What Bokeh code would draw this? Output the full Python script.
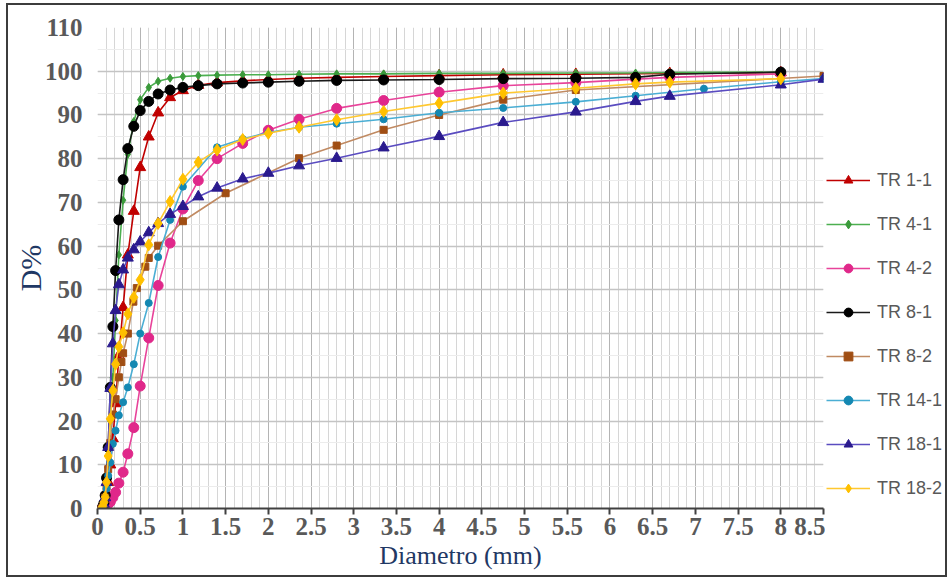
from bokeh.plotting import figure
from bokeh.layouts import row
from bokeh.models import FixedTicker, Legend, LegendItem, Range1d
from bokeh.embed import file_html
from bokeh.resources import INLINE
import numpy as np

# ---------------- data ----------------
x_tick_values = [0, 0.5, 1, 1.5, 2, 2.5, 3, 3.5, 4, 4.5, 5, 5.5, 6, 6.5, 7, 7.5, 8, 8.5]
x_tick_labels = ["0", "0.5", "1", "1.5", "2", "2.5", "3", "3.5", "4", "4.5", "5", "5.5",
                 "6", "6.5", "7", "7.5", "8", "8.5"]
y_tick_values = [0, 10, 20, 30, 40, 50, 60, 70, 80, 90, 100, 110]

tr11_d = [0.045, 0.063, 0.075, 0.09, 0.106, 0.125, 0.15, 0.18, 0.212, 0.25, 0.3, 0.355, 0.425,
          0.5, 0.6, 0.71, 0.85, 1.0, 1.18, 1.4, 1.7, 2.0, 2.36, 2.8, 3.35, 4.0, 4.75, 5.6, 6.7, 8.0]
tr11_p = [0, 0.3, 0.8, 1.8, 3.5, 6, 10, 16, 24, 35, 46, 58, 68,
          78, 85, 90.5, 94, 95.6, 96.8, 97.4, 97.8, 98.1, 98.4, 98.6, 98.8, 99.0, 99.2, 99.3, 99.5, 99.7]

tr41_d = [0.045, 0.063, 0.075, 0.09, 0.106, 0.125, 0.15, 0.18, 0.212, 0.25, 0.3, 0.355, 0.425,
          0.5, 0.6, 0.71, 0.85, 1.0, 1.18, 1.4, 1.7, 2.0, 2.36, 2.8, 3.35, 4.0, 4.75, 5.6, 6.3, 6.7, 8.0]
tr41_p = [0, 0.5, 1.5, 3.5, 7, 12, 20, 30, 43, 58, 70.5, 81, 88.5,
          93.5, 96.3, 97.7, 98.4, 98.8, 99.0, 99.1, 99.2, 99.2, 99.3, 99.4, 99.4, 99.5, 99.5, 99.6, 99.6, 99.7, 99.8]

tr42_d = [0.045, 0.063, 0.075, 0.09, 0.106, 0.125, 0.15, 0.18, 0.212, 0.25, 0.3, 0.355, 0.425,
          0.5, 0.6, 0.71, 0.85, 1.0, 1.18, 1.4, 1.7, 2.0, 2.36, 2.8, 3.35, 4.0, 4.75, 5.6, 6.3, 6.7, 8.0]
tr42_p = [0, 0.1, 0.2, 0.4, 0.7, 1.0, 1.5, 2.5, 3.7, 5.8, 8.3, 12.5, 18.5,
          28, 39, 51, 60.7, 68.5, 75, 80, 83.5, 86.5, 89, 91.5, 93.3, 95.2, 96.7, 97.4, 98.2, 98.6, 99.4]

tr81_d = [0.045, 0.063, 0.075, 0.09, 0.106, 0.125, 0.15, 0.18, 0.212, 0.25, 0.3, 0.355, 0.425,
          0.5, 0.6, 0.71, 0.85, 1.0, 1.18, 1.4, 1.7, 2.0, 2.36, 2.8, 3.35, 4.0, 4.75, 5.6, 6.3, 6.7, 8.0]
tr81_p = [0, 0.5, 1.2, 3, 7, 14, 27.7, 41.6, 54.4, 66, 75.2, 82.3, 87.4,
          91, 93.1, 94.8, 95.7, 96.3, 96.7, 97.1, 97.3, 97.5, 97.7, 97.9, 98.0, 98.1, 98.3, 98.4, 98.6, 99.3, 99.8]

tr82_d = [0.045, 0.063, 0.075, 0.09, 0.106, 0.125, 0.15, 0.18, 0.212, 0.25, 0.28, 0.3, 0.355,
          0.42, 0.46, 0.56, 0.6, 0.71, 1.0, 1.5, 2.36, 2.8, 3.35, 4.0, 4.75, 5.6, 8.5]
tr82_p = [0, 0.3, 1, 2.5, 5, 9, 15, 21.5, 25, 30, 33.5, 35.5, 40,
          47.3, 50.4, 55.3, 57.3, 60.1, 65.7, 72.1, 80.1, 83, 86.6, 90, 93.5, 95.7, 98.9]

tr141_d = [0.045, 0.063, 0.075, 0.09, 0.106, 0.125, 0.15, 0.18, 0.212, 0.25, 0.3, 0.355, 0.425,
           0.5, 0.6, 0.71, 0.85, 1.0, 1.4, 1.7, 2.0, 2.36, 2.8, 3.35, 4.0, 4.75, 5.6, 6.3, 7.1, 8.0, 8.5]
tr141_p = [0, 0.3, 1, 2.5, 4.5, 7.5, 10.5, 14.8, 17.8, 21.3, 24.3, 27.7, 33,
           40, 47, 57.5, 66, 73.6, 82.6, 84.5, 86, 87.2, 88, 89, 90.5, 91.6, 93, 94.4, 96, 97.6, 98.3]

tr181_d = [0.045, 0.063, 0.075, 0.09, 0.106, 0.125, 0.15, 0.18, 0.212, 0.25, 0.3, 0.355, 0.425,
           0.5, 0.6, 0.71, 0.85, 1.0, 1.18, 1.4, 1.7, 2.0, 2.36, 2.8, 3.35, 4.0, 4.75, 5.6, 6.3, 6.7, 8.0, 8.5]
tr181_p = [0, 0.3, 1, 2.5, 6, 14, 27.5, 37.7, 45.3, 51.2, 54.6, 57.3, 59.2,
           61, 63.1, 65.2, 67.3, 69.1, 71.3, 73.3, 75.4, 76.7, 78.4, 80.1, 82.5, 85.1, 88.3, 90.7, 93.1, 94.3, 96.9, 98.2]

tr182_d = [0.045, 0.063, 0.075, 0.09, 0.106, 0.125, 0.15, 0.18, 0.212, 0.25, 0.3, 0.355, 0.425,
           0.5, 0.6, 0.71, 0.85, 1.0, 1.18, 1.4, 1.7, 2.0, 2.36, 2.8, 3.35, 4.0, 4.75, 5.6, 6.3, 6.7, 8.0]
tr182_p = [0, 0.5, 1.4, 2.6, 6, 12, 20.5, 27, 33, 37, 40.2, 44.5, 48.3,
           52.3, 60.3, 65.2, 70.2, 75.3, 79.2, 82, 84.4, 85.8, 87.2, 88.9, 90.8, 92.7, 95, 96.1, 97.1, 97.5, 98.3]

series = [
    ("TR 1-1", tr11_d, tr11_p),
    ("TR 4-1", tr41_d, tr41_p),
    ("TR 4-2", tr42_d, tr42_p),
    ("TR 8-1", tr81_d, tr81_p),
    ("TR 8-2", tr82_d, tr82_p),
    ("TR 14-1", tr141_d, tr141_p),
    ("TR 18-1", tr181_d, tr181_p),
    ("TR 18-2", tr182_d, tr182_p),
]

# ---------------- styles ----------------
styles = {
    "TR 1-1": dict(line="#C00000", fill="#C00000", marker="triangle", size=11),
    "TR 4-1": dict(line="#4CAF50", fill="#3A9A3A", marker="diamond", size=8),
    "TR 4-2": dict(line="#E8439A", fill="#E0288A", marker="circle", size=10),
    "TR 8-1": dict(line="#1A1A1A", fill="#000000", marker="circle", size=10),
    "TR 8-2": dict(line="#C08A62", fill="#A04E14", marker="square", size=7),
    "TR 14-1": dict(line="#4AAED4", fill="#1488B2", marker="circle", size=7),
    "TR 18-1": dict(line="#5A4CC0", fill="#2A1A8E", marker="triangle", size=11),
    "TR 18-2": dict(line="#FFC830", fill="#FFC000", marker="diamond", size=12),
}

p = figure(width=817, height=570, x_range=Range1d(0, 8.5), y_range=Range1d(0, 110),
           output_backend="svg", toolbar_location=None,
           min_border_left=89, min_border_right=2, min_border_top=22, min_border_bottom=67)
p.outline_line_color = None
p.background_fill_color = "white"
p.border_fill_color = "white"

x_minor = list(np.round(np.arange(0, 8.5001, 0.1), 2))
y_minor = list(np.arange(0, 111, 5))

p.xaxis.ticker = FixedTicker(ticks=x_tick_values, minor_ticks=x_minor)
p.yaxis.ticker = FixedTicker(ticks=y_tick_values, minor_ticks=y_minor)
p.xaxis.major_label_overrides = {v: l for v, l in zip(x_tick_values, x_tick_labels)}

p.xgrid.grid_line_color = "#b4b4b4"
p.xgrid.minor_grid_line_color = "#d6d6d6"
p.ygrid.grid_line_color = "#c4c4c4"
p.ygrid.grid_line_width = 1.5
p.ygrid.minor_grid_line_color = "#ececec"

for ax in (p.xaxis[0], p.yaxis[0]):
    ax.major_label_text_font = "Liberation Serif"
    ax.major_label_text_font_style = "bold"
    ax.major_label_text_font_size = "25px"
    ax.major_label_text_color = "#595959"
    ax.minor_tick_line_color = None
    ax.axis_label_text_font = "Liberation Serif"
    ax.axis_label_text_font_style = "normal"
    ax.axis_label_text_color = "#1F3864"

p.xaxis.axis_label = "Diametro (mm)"
p.xaxis.axis_label_text_font_size = "26px"
p.xaxis.axis_line_color = "#404040"
p.xaxis.axis_line_width = 2
p.xaxis.major_tick_line_color = "#404040"
p.xaxis.major_tick_line_width = 2
p.xaxis.major_tick_out = 6
p.xaxis.major_tick_in = 0
p.xaxis.major_label_standoff = 3
p.xaxis.axis_label_standoff = 3

p.yaxis.axis_label = "D%"
p.yaxis.axis_label_text_font_size = "30px"
p.yaxis.axis_line_color = None
p.yaxis.major_tick_line_color = None
p.yaxis.major_label_standoff = 9
p.yaxis.axis_label_standoff = -5

# legend panel (narrow figure to the right of the plot; its ranges keep the
# proxy renderers out of view, only the legend is visible)
pl = figure(width=120, height=570, output_backend="svg", toolbar_location=None,
            x_range=Range1d(100, 101), y_range=Range1d(100, 101),
            x_axis_location=None, y_axis_location=None,
            min_border_left=0, min_border_right=0, min_border_top=0, min_border_bottom=0)
pl.outline_line_color = None
pl.grid.visible = False
pl.background_fill_color = "white"
pl.border_fill_color = "white"

items = []
for name, d, v in series:
    st = styles[name]
    p.line(d, v, line_color=st["line"], line_width=1.6)
    p.scatter(d, v, marker=st["marker"], size=st["size"],
              fill_color=st["fill"], line_color=st["fill"])
    lg_line = pl.line(d, v, line_color=st["line"], line_width=1.6)
    lg_mark = pl.scatter(d, v, marker=st["marker"], size=st["size"],
                         fill_color=st["fill"], line_color=st["fill"])
    items.append(LegendItem(label=name, renderers=[lg_line, lg_mark]))

legend = Legend(items=items, location=(1, 9), orientation="vertical",
                background_fill_alpha=0, border_line_color=None,
                glyph_width=44, glyph_height=22, label_standoff=7, spacing=22,
                padding=0, margin=0,
                label_text_font="Liberation Sans", label_text_font_size="18px",
                label_text_color="#595959")
pl.add_layout(legend)

layout = row(p, pl, margin=(5, 0, 0, 8), spacing=0,
             styles={"outline": "2px solid #3c3c3c"})

open("out.html", "w").write(file_html(layout, INLINE))
